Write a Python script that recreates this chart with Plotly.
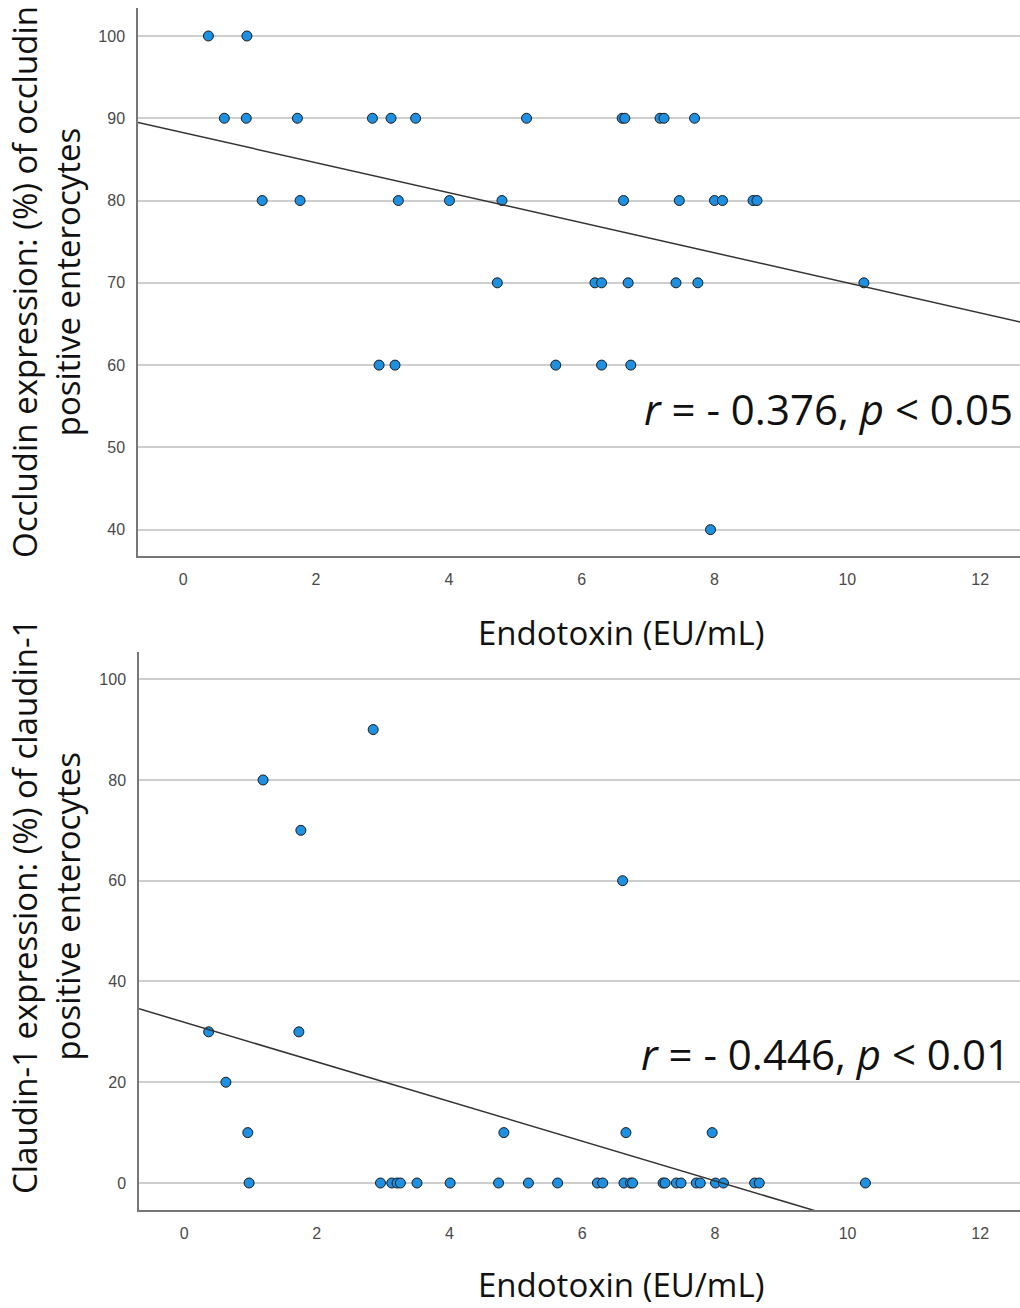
import numpy as np
import plotly.graph_objects as go

# ---- Data ----
occ_endotoxin = [0.38, 0.96,
                 0.62, 0.95, 1.72, 2.85, 3.13, 3.50, 5.17, 6.61, 6.65, 7.18, 7.24, 7.70,
                 1.19, 1.76, 3.24, 4.01, 4.80, 6.63, 7.47, 8.00, 8.12, 8.58, 8.64,
                 4.73, 6.20, 6.30, 6.70, 7.42, 7.75, 10.25,
                 2.95, 3.19, 5.61, 6.30, 6.74,
                 7.94]
occ_pct = [100, 100,
           90, 90, 90, 90, 90, 90, 90, 90, 90, 90, 90, 90,
           80, 80, 80, 80, 80, 80, 80, 80, 80, 80, 80,
           70, 70, 70, 70, 70, 70, 70,
           60, 60, 60, 60, 60,
           40]

cla_endotoxin = [2.85, 1.19, 1.76, 6.61, 0.37, 1.73, 0.63,
                 0.96, 4.82, 6.66, 7.96,
                 0.98, 2.96, 3.13, 3.21, 3.26, 3.51, 4.01, 4.74, 5.19, 5.63, 6.23, 6.31,
                 6.63, 6.73, 6.76, 7.22, 7.25, 7.42, 7.49, 7.72, 7.78, 8.01, 8.13,
                 8.60, 8.67, 10.27]
cla_pct = [90, 80, 70, 60, 30, 30, 20,
           10, 10, 10, 10,
           0, 0, 0, 0, 0, 0, 0, 0, 0, 0, 0, 0,
           0, 0, 0, 0, 0, 0, 0, 0, 0, 0, 0,
           0, 0, 0]

x_ticks = [0, 2, 4, 6, 8, 10, 12]
occ_y_ticks = [40, 50, 60, 70, 80, 90, 100]
cla_y_ticks = [0, 20, 40, 60, 80, 100]

x_title = "Endotoxin (EU/mL)"
occ_title = "Occludin expression: (%) of occludin<br>positive enterocytes"
cla_title = "Claudin-1 expression: (%) of claudin-1<br>positive enterocytes"
occ_stat = "<i>r</i> = - 0.376, <i>p</i> < 0.05"
cla_stat = "<i>r</i> = - 0.446, <i>p</i> < 0.01"

# ---- Figure ----
W, H = 1020, 1308
MARKER = dict(size=10, color="rgb(30,144,225)", line=dict(color="#1a1a1a", width=1))
LABEL_FONT = "Open Sans, Noto Sans, sans-serif"
TICK_FONT = dict(family="Liberation Sans, Arial, sans-serif", size=16, color="#4a4a4a")

fig = go.Figure()

x_range = [-0.68, 12.6]

def add_panel(xs, ys, xaxis, yaxis):
    fig.add_trace(go.Scatter(x=xs, y=ys, mode="markers", marker=MARKER,
                             xaxis=xaxis, yaxis=yaxis, showlegend=False, hoverinfo="x+y"))
    slope, intercept = np.polyfit(np.array(xs), np.array(ys), 1)
    lx = np.array(x_range)
    fig.add_trace(go.Scatter(x=lx, y=intercept + slope * lx, mode="lines",
                             line=dict(color="#333333", width=1.5),
                             xaxis=xaxis, yaxis=yaxis, showlegend=False, hoverinfo="skip"))

add_panel(occ_endotoxin, occ_pct, "x", "y")
add_panel(cla_endotoxin, cla_pct, "x2", "y2")

def xaxis_cfg(anchor, domain):
    return dict(domain=domain, anchor=anchor, range=x_range, tickvals=x_ticks,
                showgrid=False, zeroline=False, showline=True, linecolor="#777777",
                linewidth=1.5, ticks="", tickfont=TICK_FONT, ticklabelstandoff=8,
                fixedrange=True)

def yaxis_cfg(anchor, domain, rng, ticks):
    return dict(domain=domain, anchor=anchor, range=rng, tickvals=ticks,
                showgrid=True, gridcolor="#cfcfcf", gridwidth=2, zeroline=False,
                showline=True, linecolor="#777777", linewidth=1.5, ticks="",
                tickfont=TICK_FONT, ticklabelstandoff=8, fixedrange=True)

fig.update_layout(
    width=W, height=H,
    margin=dict(l=0, r=0, t=0, b=0),
    paper_bgcolor="white", plot_bgcolor="white",
    xaxis=xaxis_cfg("y", [138 / W, 1.0]),
    yaxis=yaxis_cfg("x", [1 - 556 / H, 1 - 8 / H], [36.8, 103.4], occ_y_ticks),
    xaxis2=xaxis_cfg("y2", [139 / W, 1.0]),
    yaxis2=yaxis_cfg("x2", [1 - 1210 / H, 1 - 652 / H], [-5.36, 105.4], cla_y_ticks),
)

ann_font = dict(family=LABEL_FONT, size=33, color="#111111")
stat_font = dict(family=LABEL_FONT, size=42, color="#111111")
annotations = [
    dict(text=x_title, x=621 / W, y=1 - 632 / H, xref="paper", yref="paper",
         showarrow=False, font=ann_font, xanchor="center", yanchor="middle"),
    dict(text=x_title, x=621 / W, y=1 - 1284 / H, xref="paper", yref="paper",
         showarrow=False, font=ann_font, xanchor="center", yanchor="middle"),
    dict(text=occ_title, x=46 / W, y=1 - 282 / H, xref="paper", yref="paper",
         showarrow=False, font=ann_font, textangle=-90, xanchor="center", yanchor="middle"),
    dict(text=cla_title, x=46 / W, y=1 - 907 / H, xref="paper", yref="paper",
         showarrow=False, font=ann_font, textangle=-90, xanchor="center", yanchor="middle"),
    dict(text=occ_stat, x=1015 / W, y=1 - 408 / H, xref="paper", yref="paper",
         showarrow=False, font=stat_font, xanchor="right", yanchor="middle"),
    dict(text=cla_stat, x=1012 / W, y=1 - 1053 / H, xref="paper", yref="paper",
         showarrow=False, font=stat_font, xanchor="right", yanchor="middle"),
]
fig.update_layout(annotations=annotations)

fig.write_html("out.html", config={"displayModeBar": False},
               post_script="document.body.style.margin='0px';document.body.style.overflow='hidden';")
